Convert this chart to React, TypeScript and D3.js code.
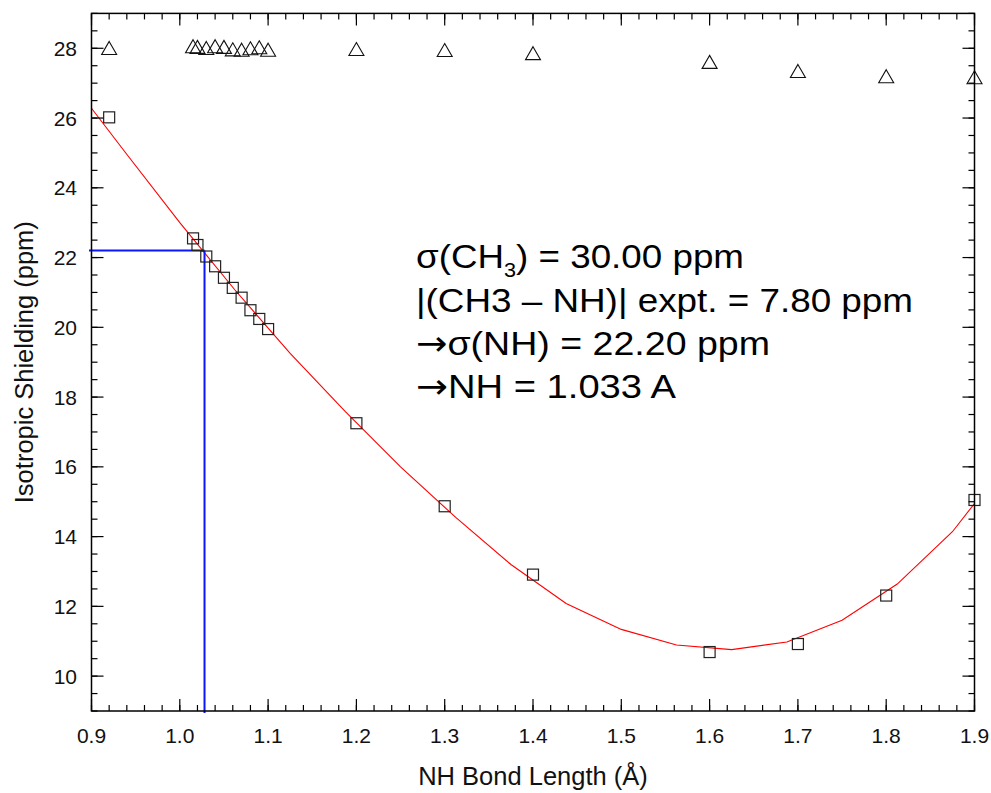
import React from "react";
import * as d3 from "d3";

const bondLengths = [0.92, 1.015, 1.02, 1.03, 1.04, 1.05, 1.06, 1.07, 1.08, 1.09, 1.1, 1.2, 1.3, 1.4, 1.6, 1.7, 1.8, 1.9];
const nhShielding = [26.02, 22.55, 22.36, 22.03, 21.75, 21.42, 21.13, 20.85, 20.49, 20.24, 19.95, 17.25, 14.87, 12.91, 10.69, 10.92, 12.31, 15.05];
const otherShielding = [28.01, 28.06, 28.04, 28.01, 28.06, 28.04, 27.97, 27.96, 28.0, 28.03, 27.96, 27.98, 27.95, 27.86, 27.61, 27.35, 27.2, 27.17];

const fitX = [0.9, 0.9375, 1.0, 1.0625, 1.125, 1.1875, 1.25, 1.3125, 1.375, 1.4375, 1.5, 1.5625, 1.625, 1.6875, 1.75, 1.8125, 1.875, 1.9];
const fitY = [26.28, 25.04, 23.0, 21.07, 19.25, 17.58, 16.0, 14.55, 13.2, 12.08, 11.34, 10.89, 10.76, 10.98, 11.6, 12.64, 14.14, 14.95];

const guideShielding = 22.2;
const guideBond = 1.028;

const xTickLabels = ["0.9", "1.0", "1.1", "1.2", "1.3", "1.4", "1.5", "1.6", "1.7", "1.8", "1.9"];
const yTickValues = [10, 12, 14, 16, 18, 20, 22, 24, 26, 28];

const xTitle = "NH Bond Length (Å)";
const yTitle = "Isotropic Shielding (ppm)";

const W = 991;
const H = 793;
const L = 91.5, R = 974.5, T = 13.4, B = 711;
const FONT = "'Liberation Sans', Arial, Helvetica, sans-serif";
const ARROW_FONT = "'DejaVu Sans', sans-serif";

export default function App() {
  const x = d3.scaleLinear().domain([0.9, 1.9]).range([L, R]);
  const y = d3.scaleLinear().domain([9, 29]).range([B, T]);

  const xMinor = d3.range(0, 51).map((i) => 0.9 + i * 0.02);
  const xMajor = d3.range(0, 11).map((i) => 0.9 + i * 0.1);
  const yMinor = d3.range(0, 41).map((i) => 9 + i * 0.5);

  const line = d3
    .line<number>()
    .x((_, i) => x(fitX[i]))
    .y((d) => y(d));

  const sq = 11;
  const triW = 15, triH = 13;
  const ax = 416;

  return (
    <svg width={W} height={H} style={{ position: "absolute", left: 0, top: 0, background: "#fff" }} fontFamily={FONT}>
      <rect x={0} y={0} width={W} height={H} fill="#fff" />
      <defs>
        <clipPath id="plot">
          <rect x={L} y={T} width={R - L} height={B - T} />
        </clipPath>
      </defs>

      {/* fit curve */}
      <path d={line(fitY) || ""} fill="none" stroke="#ff0000" strokeWidth={1.1} clipPath="url(#plot)" />

      {/* guide lines */}
      <line x1={L - 2.5} x2={x(guideBond)} y1={y(guideShielding)} y2={y(guideShielding)} stroke="#0a14ff" strokeWidth={2} />
      <line x1={x(guideBond)} x2={x(guideBond)} y1={y(guideShielding)} y2={B + 2} stroke="#0a14ff" strokeWidth={2} />

      {/* squares */}
      {bondLengths.map((b, i) => (
        <rect
          key={"s" + i}
          x={x(b) - sq / 2}
          y={y(nhShielding[i]) - sq / 2}
          width={sq}
          height={sq}
          fill="none"
          stroke="#222"
          strokeWidth={1.2}
        />
      ))}

      {/* triangles */}
      {bondLengths.map((b, i) => {
        const cx = x(b);
        const cy = y(otherShielding[i]);
        const p = `${cx},${cy - triH / 2} ${cx + triW / 2},${cy + triH / 2} ${cx - triW / 2},${cy + triH / 2}`;
        return <polygon key={"t" + i} points={p} fill="none" stroke="#111" strokeWidth={1.1} />;
      })}

      {/* frame */}
      <rect x={L} y={T} width={R - L} height={B - T} fill="none" stroke="#000" strokeWidth={1.5} />

      {/* x ticks */}
      {xMinor.map((v, i) => (
        <g key={"xm" + i} stroke="#000" strokeWidth={1.2}>
          <line x1={x(v)} x2={x(v)} y1={B} y2={B - 6} />
          <line x1={x(v)} x2={x(v)} y1={T} y2={T + 6} />
        </g>
      ))}
      {xMajor.map((v, i) => (
        <g key={"xM" + i} stroke="#000" strokeWidth={1.2}>
          <line x1={x(v)} x2={x(v)} y1={B} y2={B - 12} />
          <line x1={x(v)} x2={x(v)} y1={T} y2={T + 12} />
        </g>
      ))}
      {xMajor.map((v, i) => (
        <text key={"xl" + i} x={x(v)} y={743} fontSize={21} textAnchor="middle" fill="#111">
          {xTickLabels[i]}
        </text>
      ))}

      {/* y ticks */}
      {yMinor.map((v, i) => (
        <g key={"ym" + i} stroke="#000" strokeWidth={1.2}>
          <line x1={L} x2={L + 6} y1={y(v)} y2={y(v)} />
          <line x1={R} x2={R - 6} y1={y(v)} y2={y(v)} />
        </g>
      ))}
      {yTickValues.map((v, i) => (
        <g key={"yM" + i} stroke="#000" strokeWidth={1.2}>
          <line x1={L} x2={L + 12} y1={y(v)} y2={y(v)} />
          <line x1={R} x2={R - 12} y1={y(v)} y2={y(v)} />
        </g>
      ))}
      {yTickValues.map((v, i) => (
        <text key={"yl" + i} x={77} y={y(v) + 7.5} fontSize={21} textAnchor="end" fill="#111">
          {String(v)}
        </text>
      ))}

      {/* axis titles */}
      <text x={(L + R) / 2} y={785} fontSize={25.5} textAnchor="middle" fill="#111">
        {xTitle}
      </text>
      <text transform={`translate(33,${(T + B) / 2}) rotate(-90)`} fontSize={25.5} textAnchor="middle" fill="#111">
        {yTitle}
      </text>

      {/* annotation */}
      <g fontSize={34} fill="#000">
        <text x={ax} y={268} textLength={328} lengthAdjust="spacingAndGlyphs">
          σ(CH<tspan fontSize={20} dy={9}>3</tspan>
          <tspan dy={-9}>) = 30.00 ppm</tspan>
        </text>
        <text x={ax} y={312} textLength={497} lengthAdjust="spacingAndGlyphs">
          |(CH3 – NH)| expt. = 7.80 ppm
        </text>
        <text x={ax} y={355} textLength={354} lengthAdjust="spacingAndGlyphs">
          <tspan fontFamily={ARROW_FONT}>→</tspan>σ(NH) = 22.20 ppm
        </text>
        <text x={ax} y={398} textLength={260} lengthAdjust="spacingAndGlyphs">
          <tspan fontFamily={ARROW_FONT}>→</tspan>NH = 1.033 A
        </text>
      </g>
    </svg>
  );
}
